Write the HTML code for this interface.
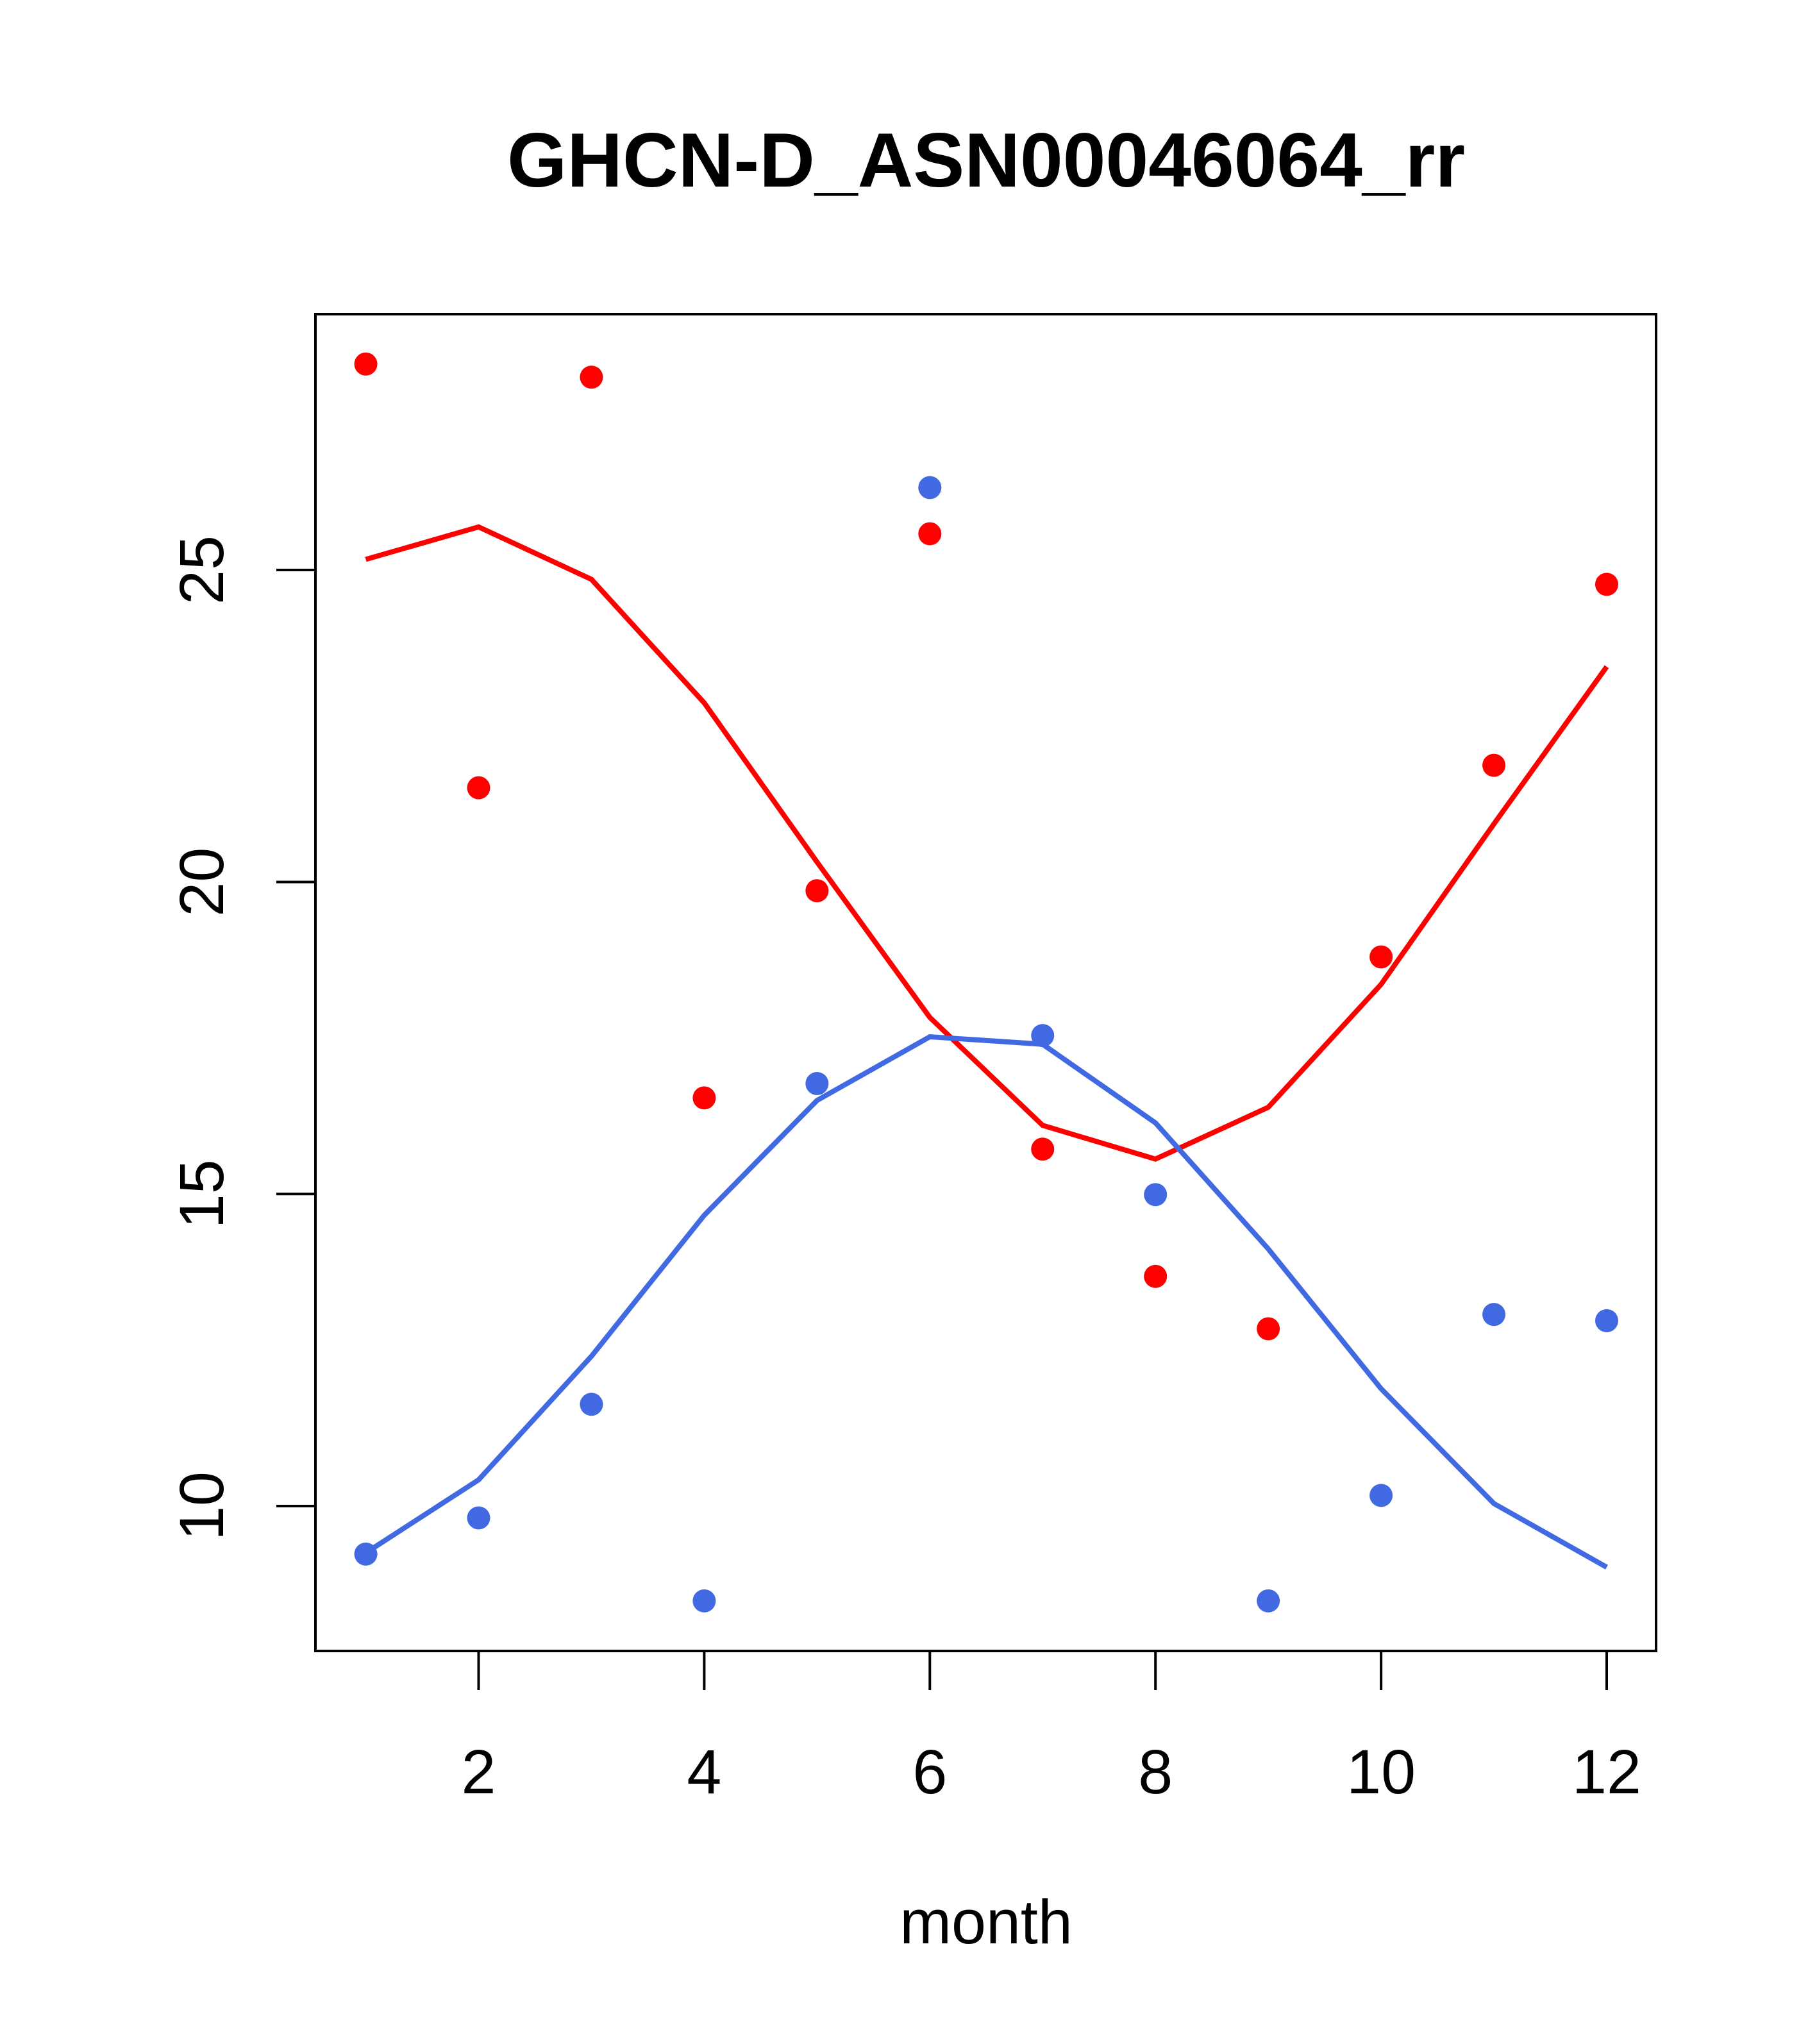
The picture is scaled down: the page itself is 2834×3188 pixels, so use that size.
<!DOCTYPE html>
<html><head><meta charset="utf-8"><style>
html,body{margin:0;padding:0;background:#fff;}
svg{display:block;}
text{font-family:"Liberation Sans",Arial,sans-serif;fill:#000;}
</style></head>
<body>
<svg id="chart" xmlns="http://www.w3.org/2000/svg" width="2834" height="3188" viewBox="0 0 2834 3188">
<rect width="2834" height="3188" fill="#fff"/>
<text x="1538" y="291" font-size="120" font-weight="bold" text-anchor="middle">GHCN-D_ASN00046064_rr</text>
<text x="1538" y="3031" font-size="97" text-anchor="middle">month</text>
<g id="plot"></g>
</svg>
<script>
const months = [1,2,3,4,5,6,7,8,9,10,11,12];
const redPoints = [28.30,21.51,28.09,16.54,19.86,25.58,15.72,13.68,12.84,18.80,21.87,24.77];
const redLine = [25.17,25.69,24.85,22.87,20.32,17.83,16.10,15.56,16.39,18.36,20.93,23.45];
const bluePoints = [9.23,9.81,11.63,8.48,16.77,26.32,17.54,14.99,8.48,10.17,13.07,12.97];
const blueLine = [9.25,10.42,12.40,14.66,16.50,17.52,17.40,16.14,14.12,11.88,10.04,9.02];
const xTicks = [2,4,6,8,10,12];
const yTicks = [10,15,20,25];

const NS = "http://www.w3.org/2000/svg";
const g = document.getElementById('plot');
const X = v => 746.5 + (v - 2) * 175.95;
const Y = v => 889 + (25 - v) * 97.33;
function el(tag, attrs){ const e = document.createElementNS(NS, tag); for (const k in attrs) e.setAttribute(k, attrs[k]); g.appendChild(e); return e; }

const box = el('rect', {x:492, y:490, width:2091, height:2085, fill:'none', stroke:'#000', 'stroke-width':4});



const xa = el('line', {x1:X(2), x2:X(12), y1:2575, y2:2575, stroke:'#000', 'stroke-width':4});


xTicks.forEach(t => {
  const l = el('line', {x1:X(t), x2:X(t), y1:2575, y2:2636, stroke:'#000', 'stroke-width':4});
  
  
  const tx = el('text', {x:X(t), y:2797, 'font-size':97, 'text-anchor':'middle'});
  tx.textContent = t;
  
  
});
const ya = el('line', {x1:492, x2:492, y1:Y(10), y2:Y(25), stroke:'#000', 'stroke-width':4});


yTicks.forEach(t => {
  const l = el('line', {x1:431, x2:492, y1:Y(t), y2:Y(t), stroke:'#000', 'stroke-width':4});
  
  
  const tx = el('text', {x:0, y:0, 'font-size':97, 'text-anchor':'middle', transform:`translate(348,${Y(t)}) rotate(-90)`});
  tx.textContent = t;
  
  
});

function line(vals, color, name){
  const p = el('polyline', {points: vals.map((v,i)=>X(months[i])+','+Y(v)).join(' '), fill:'none', stroke:color, 'stroke-width':8});
  
  
}
function pts(vals, color, name){
  vals.forEach((v,i) => {
    const c = el('circle', {cx:X(months[i]), cy:Y(v), r:18, fill:color});
    
    
  });
}
line(redLine, '#ff0000', 'red-smooth-line');
line(blueLine, '#4169e1', 'blue-smooth-line');
pts(redPoints, '#ff0000', 'red-point');
pts(bluePoints, '#4169e1', 'blue-point');
</script>
</body></html>
